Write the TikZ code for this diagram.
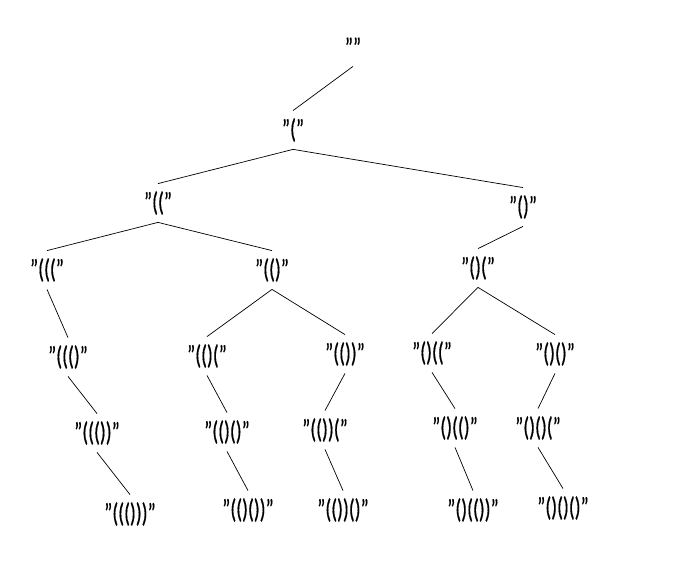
\documentclass[tikz,border=0pt]{standalone}
\usepackage{fontspec}
\setmainfont{Carlito}[FakeStretch=0.72, FakeBold=0.4]

\begin{document}
\begin{tikzpicture}[font=\fontsize{23}{26}\selectfont,
  paren/.style={inner sep=0pt, minimum height=1.15cm},
  edge/.style={line width=0.6pt}]

\useasboundingbox (0,0) rectangle (21,16.86);

% Root
\node[paren] (e) at (10.59, 15.45) {""};

% One bracket
\node[paren] (p) at (8.79, 12.96) {"("};

% Two brackets
\node[paren] (pp) at (4.74, 10.77) {"(("};
\node[paren] (pc) at (15.69, 10.65) {"()"};

% Three brackets
\node[paren] (ppp) at (1.41, 8.76) {"((("};
\node[paren] (ppc) at (8.16, 8.76) {"(()"};
\node[paren] (pcp) at (14.34, 8.82) {"()("};

% Four brackets
\node[paren] (pppc) at (2.04, 6.15) {"((()"};
\node[paren] (ppcp) at (6.21, 6.18) {"(()("};
\node[paren] (ppcc) at (10.35, 6.24) {"(())"};
\node[paren] (pcpp) at (12.96, 6.27) {"()(("};
\node[paren] (pcpc) at (16.65, 6.24) {"()()"};

% Five brackets
\node[paren] (pppcc) at (2.91, 3.87) {"((())"};
\node[paren] (ppcpc) at (6.81, 3.90) {"(()()"};
\node[paren] (ppccp) at (9.75, 3.96) {"(())("};
\node[paren] (pcppc) at (13.65, 4.02) {"()(()"};
\node[paren] (pcpcp) at (16.14, 4.02) {"()()("};

% Complete strings
\node[paren] (pppccc) at (3.90, 1.44) {"((()))"};
\node[paren] (ppcpcc) at (7.44, 1.56) {"(()())"};
\node[paren] (ppccpc) at (10.29, 1.56) {"(())()"};
\node[paren] (pcppcc) at (14.19, 1.56) {"()(())"};
\node[paren] (pcpcpc) at (16.89, 1.62) {"()()()"};

% Branches
\foreach \a/\b in {e/p, p/pp, p/pc, pp/ppp, pp/ppc, pc/pcp,
    ppp/pppc, ppc/ppcp, ppc/ppcc, pcp/pcpp, pcp/pcpc,
    pppc/pppcc, ppcp/ppcpc, ppcc/ppccp, pcpp/pcppc, pcpc/pcpcp,
    pppcc/pppccc, ppcpc/ppcpcc, ppccp/ppccpc, pcppc/pcppcc, pcpcp/pcpcpc} {
  \draw[edge] (\a.south) -- (\b.north);
}

\end{tikzpicture}
\end{document}
